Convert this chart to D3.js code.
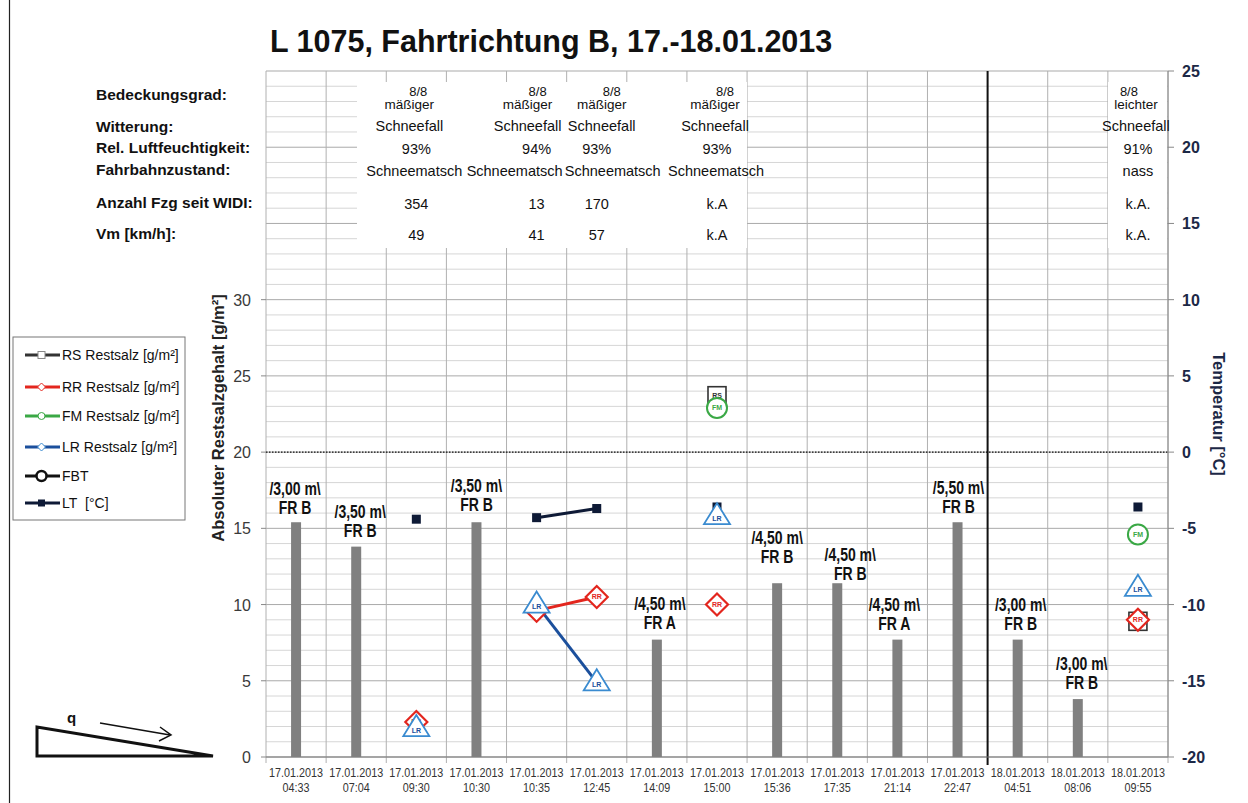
<!DOCTYPE html>
<html><head><meta charset="utf-8">
<script src="https://cdn.jsdelivr.net/npm/d3@7"></script>
<style>body{margin:0;background:#fff}svg{display:block}</style>
</head><body><svg id="c" width="1248" height="803"></svg>
<script>
// ---------------- DATA ----------------
const xDates = ["17.01.2013","17.01.2013","17.01.2013","17.01.2013","17.01.2013","17.01.2013","17.01.2013","17.01.2013","17.01.2013","17.01.2013","17.01.2013","17.01.2013","18.01.2013","18.01.2013","18.01.2013"];
const xTimes = ["04:33","07:04","09:30","10:30","10:35","12:45","14:09","15:00","15:36","17:35","21:14","22:47","04:51","08:06","09:55"];
const categories = xDates.map((d,i)=>d+" "+xTimes[i]);

const barValues   = [15.4,13.8,null,15.4,null,null,7.7,null,11.4,11.4,7.7,15.4,7.7,3.8,null];
const barWidthLbl = ["/3,00 m\\","/3,50 m\\",null,"/3,50 m\\",null,null,"/4,50 m\\",null,"/4,50 m\\","/4,50 m\\","/4,50 m\\","/5,50 m\\","/3,00 m\\","/3,00 m\\",null];
const barDirLbl   = ["FR B","FR B",null,"FR B",null,null,"FR A",null,"FR B","FR B","FR A","FR B","FR B","FR B",null];

const rsValues = [null,null,null,null,null,null,null,23.7,null,null,null,null,null,null,8.9];
const rrValues = [null,null,2.3,null,9.6,10.5,null,10.0,null,null,null,null,null,null,9.0];
const fmValues = [null,null,null,null,null,null,null,22.9,null,null,null,null,null,null,14.6];
const lrValues = [null,null,1.9,null,10.0,4.9,null,15.8,null,null,null,null,null,null,11.1];
const fbtValues = [null,null,null,null,null,null,null,null,null,null,null,null,null,null,null];
const ltValues = [null,null,-4.4,null,-4.3,-3.7,null,-3.6,null,null,null,null,null,null,-3.6];

const leftTicks  = [0,5,10,15,20,25,30];
const rightTicks = [-20,-15,-10,-5,0,5,10,15,20,25];

const rowLabels = ["Bedeckungsgrad:","Witterung:","Rel. Luftfeuchtigkeit:","Fahrbahnzustand:","Anzahl Fzg seit WIDI:","Vm [km/h]:"];
const hdrCover    = [null,null,"8/8",null,"8/8","8/8",null,"8/8",null,null,null,null,null,null,"8/8"];
const hdrWeather1 = [null,null,"mäßiger",null,"mäßiger","mäßiger",null,"mäßiger",null,null,null,null,null,null,"leichter"];
const hdrWeather2 = [null,null,"Schneefall",null,"Schneefall","Schneefall",null,"Schneefall",null,null,null,null,null,null,"Schneefall"];
const hdrHumidity = [null,null,"93%",null,"94%","93%",null,"93%",null,null,null,null,null,null,"91%"];
const hdrRoad     = [null,null,"Schneematsch",null,"Schneematsch","Schneematsch",null,"Schneematsch",null,null,null,null,null,null,"nass"];
const hdrCount    = [null,null,"354",null,"13","170",null,"k.A",null,null,null,null,null,null,"k.A."];
const hdrVm       = [null,null,"49",null,"41","57",null,"k.A",null,null,null,null,null,null,"k.A."];

const legendItems = ["RS Restsalz [g/m²]","RR Restsalz [g/m²]","FM Restsalz [g/m²]","LR Restsalz [g/m²]","FBT","LT\u00a0\u00a0[°C]"];
const titleText = "L 1075, Fahrtrichtung B, 17.-18.01.2013";

// ---------------- LAYOUT ----------------
const svg = d3.select("#c");
const X0=266, X1=1168, YT=71, YB=757;
const FONT = "'Liberation Sans', Arial, sans-serif";
const x = d3.scaleBand().domain(categories).range([X0,X1]).padding(0);
const bw = x.bandwidth();
const cx = i => x(categories[i]) + bw/2;
const yL = d3.scaleLinear().domain([0,45]).range([YB,YT]);
const yR = d3.scaleLinear().domain([-20,25]).range([YB,YT]);

// condense a text (no narrow font installed)
function narrow(sel, f){
  sel.each(function(){
    const w = this.getComputedTextLength();
    d3.select(this).attr("textLength", w*f).attr("lengthAdjust","spacingAndGlyphs");
  });
}

svg.append("rect").attr("width",1248).attr("height",803).attr("fill","#fff");
svg.append("line").attr("x1",9.5).attr("x2",9.5).attr("y1",0).attr("y2",803).attr("stroke","#222").attr("stroke-width",1.2);

// grid
const g = svg.append("g");
d3.range(0,46).forEach(v=>{
  g.append("line").attr("x1",X0).attr("x2",X1).attr("y1",yL(v)).attr("y2",yL(v))
   .attr("stroke", v%5===0 ? "#a9a9a9" : "#d6d6d6").attr("stroke-width",1);
});
d3.range(0,categories.length+1).forEach(i=>{
  const xx = i<categories.length ? x(categories[i]) : X1;
  g.append("line").attr("x1",xx).attr("x2",xx).attr("y1",YT).attr("y2",YB+6)
   .attr("stroke","#b0b0b0").attr("stroke-width",1);
});
svg.append("rect").attr("x",357).attr("y",82).attr("width",390).attr("height",166).attr("fill","#fff");
svg.append("rect").attr("x",1108).attr("y",82).attr("width",59).attr("height",166).attr("fill","#fff");

const xSep = x(categories[12]);
svg.append("line").attr("x1",xSep).attr("x2",xSep).attr("y1",YT).attr("y2",YB+8).attr("stroke","#111").attr("stroke-width",2);

svg.append("line").attr("x1",X0).attr("x2",X1).attr("y1",yR(0)).attr("y2",yR(0))
  .attr("stroke","#111").attr("stroke-width",1.3).attr("stroke-dasharray","1.5,1.5");

// x axis
svg.append("line").attr("x1",X0).attr("x2",X1).attr("y1",YB).attr("y2",YB).attr("stroke","#777");
const xl = svg.append("g").attr("font-family",FONT).attr("font-size",13).attr("fill","#333").attr("text-anchor","middle");
categories.forEach((c,i)=>{
  xl.append("text").attr("x",cx(i)).attr("y",777).text(xDates[i]);
  xl.append("text").attr("x",cx(i)).attr("y",792).text(xTimes[i]);
});
narrow(xl.selectAll("text"), 0.83);

// left axis
const la = svg.append("g").attr("font-family",FONT).attr("font-size",16).attr("fill","#3a3a3a").attr("text-anchor","end");
leftTicks.forEach(v=>{
  la.append("line").attr("x1",X0-5).attr("x2",X0).attr("y1",yL(v)).attr("y2",yL(v)).attr("stroke","#888");
  la.append("text").attr("x",251).attr("y",yL(v)+6).text(v);
});
svg.append("text").attr("transform","translate(224,418) rotate(-90)").attr("text-anchor","middle")
  .attr("font-family",FONT).attr("font-weight","bold").attr("font-size",16.5).attr("fill","#222")
  .text("Absoluter Restsalzgehalt [g/m²]");

// right axis
svg.append("line").attr("x1",X1).attr("x2",X1).attr("y1",YT).attr("y2",YB).attr("stroke","#888");
const ra = svg.append("g").attr("font-family",FONT).attr("font-size",16).attr("font-weight","bold").attr("fill","#1c2846");
rightTicks.forEach(v=>{
  ra.append("line").attr("x1",X1).attr("x2",X1+6).attr("y1",yR(v)).attr("y2",yR(v)).attr("stroke","#888");
  ra.append("text").attr("x",1182).attr("y",yR(v)+6).text(v);
});
svg.append("text").attr("transform","translate(1213,414) rotate(90)").attr("text-anchor","middle")
  .attr("font-family",FONT).attr("font-weight","bold").attr("font-size",16.5).attr("fill","#1c2846")
  .text("Temperatur [°C]");

// title
svg.append("text").attr("x",270).attr("y",52).attr("font-family",FONT).attr("font-weight","bold")
  .attr("font-size",30.5).attr("fill","#111").text(titleText);

// header row labels
const rowY = [100,132,153,175,208,239];
const hl = svg.append("g").attr("font-family",FONT).attr("font-weight","bold").attr("font-size",15.5).attr("fill","#111");
rowLabels.forEach((t,k)=> hl.append("text").attr("x",96).attr("y",rowY[k]).text(t));

// header columns
const coverDx = {2:2,4:1,5:15,7:8,14:-9};
const weatherDx = {2:-7,4:-9,5:5,7:-2,14:-2};
const roadDx = {2:-2,4:-22,5:16,7:-1,14:0};
const ht = svg.append("g").attr("font-family",FONT).attr("fill","#111").attr("text-anchor","middle");
function hrow(arr, y, dx, fs){
  arr.forEach((t,i)=>{ if(t==null) return;
    ht.append("text").attr("x",cx(i)+((dx&&dx[i])||0)).attr("y",y).attr("font-size",fs).text(t); });
}
hrow(hdrCover, 96, coverDx, 13);
hrow(hdrWeather1, 109, weatherDx, 13.5);
hrow(hdrWeather2, 131, weatherDx, 14.5);
hrow(hdrHumidity, 154, null, 14.5);
hrow(hdrRoad, 176, roadDx, 14.5);
hrow(hdrCount, 209, null, 14.5);
hrow(hdrVm, 240, null, 14.5);

// bars
const bars = svg.append("g");
const labelDx = [-1,4,0,0,0,0,3,0,0,13,-3,1,3,4,0];
const labelDy = [-8,-10,0,-11,0,0,-11,0,-20,-3,-10,-9,-10,-10,0];
const blbl = svg.append("g").attr("font-family",FONT).attr("font-weight","bold").attr("font-size",17.5)
  .attr("fill","#111").attr("text-anchor","middle");
barValues.forEach((v,i)=>{
  if(v==null) return;
  bars.append("rect").attr("x",cx(i)-5).attr("y",yL(v)).attr("width",10).attr("height",YB-yL(v)).attr("fill","#808080");
  const ly = yL(v)+labelDy[i], lx = cx(i)+labelDx[i];
  blbl.append("text").attr("x",lx).attr("y",ly-19).text(barWidthLbl[i]);
  blbl.append("text").attr("x",lx).attr("y",ly).text(barDirLbl[i]);
});
narrow(blbl.selectAll("text"), 0.8);

// lines
const C = {rs:"#333333", rr:"#e3261e", fm:"#3aa845", lr:"#3a8bd0", lrLine:"#1b4f9c", lt:"#0e1a36"};
function drawLine(vals, scale, color, w){
  const line = d3.line().defined(d=>d.v!=null).x(d=>cx(d.i)).y(d=>scale(d.v));
  svg.append("path").datum(vals.map((v,i)=>({v,i}))).attr("d",line).attr("fill","none")
    .attr("stroke",color).attr("stroke-width",w);
}
drawLine(rrValues, yL, C.rr, 3);
drawLine(lrValues, yL, C.lrLine, 3);
drawLine(ltValues, yR, C.lt, 3);

// markers
const mk = svg.append("g");
function tag(xx,yy,t,col,dy){
  mk.append("text").attr("x",xx).attr("y",yy+(dy||2.5)).attr("text-anchor","middle").attr("font-family",FONT)
    .attr("font-weight","bold").attr("font-size",7).attr("fill",col).text(t);
}
rsValues.forEach((v,i)=>{ if(v==null) return; const X=cx(i),Y=yL(v);
  mk.append("rect").attr("x",X-9).attr("y",Y-9).attr("width",18).attr("height",18).attr("fill","#fff").attr("stroke",C.rs).attr("stroke-width",1.6);
  tag(X,Y,"RS",C.rs); });
ltValues.forEach((v,i)=>{ if(v==null) return; const X=cx(i),Y=yR(v);
  mk.append("rect").attr("x",X-4.5).attr("y",Y-4.5).attr("width",9).attr("height",9).attr("fill",C.lt); });
rrValues.forEach((v,i)=>{ if(v==null) return; const X=cx(i),Y=yL(v);
  mk.append("path").attr("d",`M${X},${Y-11}L${X+11},${Y}L${X},${Y+11}L${X-11},${Y}Z`).attr("fill","#fff").attr("stroke",C.rr).attr("stroke-width",2.2);
  tag(X,Y,"RR",C.rr); });
fmValues.forEach((v,i)=>{ if(v==null) return; const X=cx(i),Y=yL(v);
  mk.append("circle").attr("cx",X).attr("cy",Y).attr("r",10).attr("fill","#fff").attr("stroke",C.fm).attr("stroke-width",2);
  tag(X,Y,"FM",C.fm); });
lrValues.forEach((v,i)=>{ if(v==null) return; const X=cx(i),Y=yL(v);
  mk.append("path").attr("d",`M${X},${Y-13}L${X+13},${Y+8}L${X-13},${Y+8}Z`).attr("fill","#fff").attr("stroke",C.lr).attr("stroke-width",1.8);
  tag(X,Y,"LR",C.lrLine,4.5); });

// legend
const lg = svg.append("g");
lg.append("rect").attr("x",13).attr("y",337).attr("width",172).attr("height",183).attr("fill","#fff").attr("stroke","#777").attr("stroke-width",1);
const legY = [355,387,416,447,476,503];
const legCol = [C.rs, C.rr, C.fm, C.lrLine, "#111", C.lt];
legendItems.forEach((t,k)=>{
  const Y = legY[k];
  lg.append("line").attr("x1",25).attr("x2",60).attr("y1",Y).attr("y2",Y).attr("stroke",legCol[k]).attr("stroke-width",3);
  if(k===0) lg.append("rect").attr("x",38).attr("y",Y-3.5).attr("width",7).attr("height",7).attr("fill","#fff").attr("stroke","#888");
  if(k===1) lg.append("path").attr("d",`M41.5,${Y-4}L45.5,${Y}L41.5,${Y+4}L37.5,${Y}Z`).attr("fill","#fff").attr("stroke",C.rr);
  if(k===2) lg.append("circle").attr("cx",41.5).attr("cy",Y).attr("r",3.5).attr("fill","#fff").attr("stroke",C.fm);
  if(k===3) lg.append("path").attr("d",`M41.5,${Y-4}L45.5,${Y}L41.5,${Y+4}L37.5,${Y}Z`).attr("fill","#fff").attr("stroke",C.lr);
  if(k===4) lg.append("circle").attr("cx",41.5).attr("cy",Y).attr("r",5).attr("fill","#fff").attr("stroke","#111").attr("stroke-width",2.5);
  if(k===5) lg.append("rect").attr("x",38).attr("y",Y-3.5).attr("width",7).attr("height",7).attr("fill",C.lt);
  lg.append("text").attr("x",62).attr("y",Y+5).attr("font-family",FONT).attr("font-size",14).attr("fill","#111").text(t);
});

// slope sketch bottom-left
const sk = svg.append("g").attr("stroke","#111").attr("fill","none");
sk.append("path").attr("d","M37,727L37,756L213,756Z").attr("stroke-width",3).attr("stroke-linejoin","miter");
sk.append("line").attr("x1",100).attr("y1",723).attr("x2",170).attr("y2",735).attr("stroke-width",1.5);
sk.append("path").attr("d","M160,727L171,735L159,741").attr("stroke-width",1.5);
svg.append("text").attr("x",67).attr("y",723).attr("font-family",FONT).attr("font-weight","bold").attr("font-size",15).attr("fill","#111").text("q");
</script></body></html>
